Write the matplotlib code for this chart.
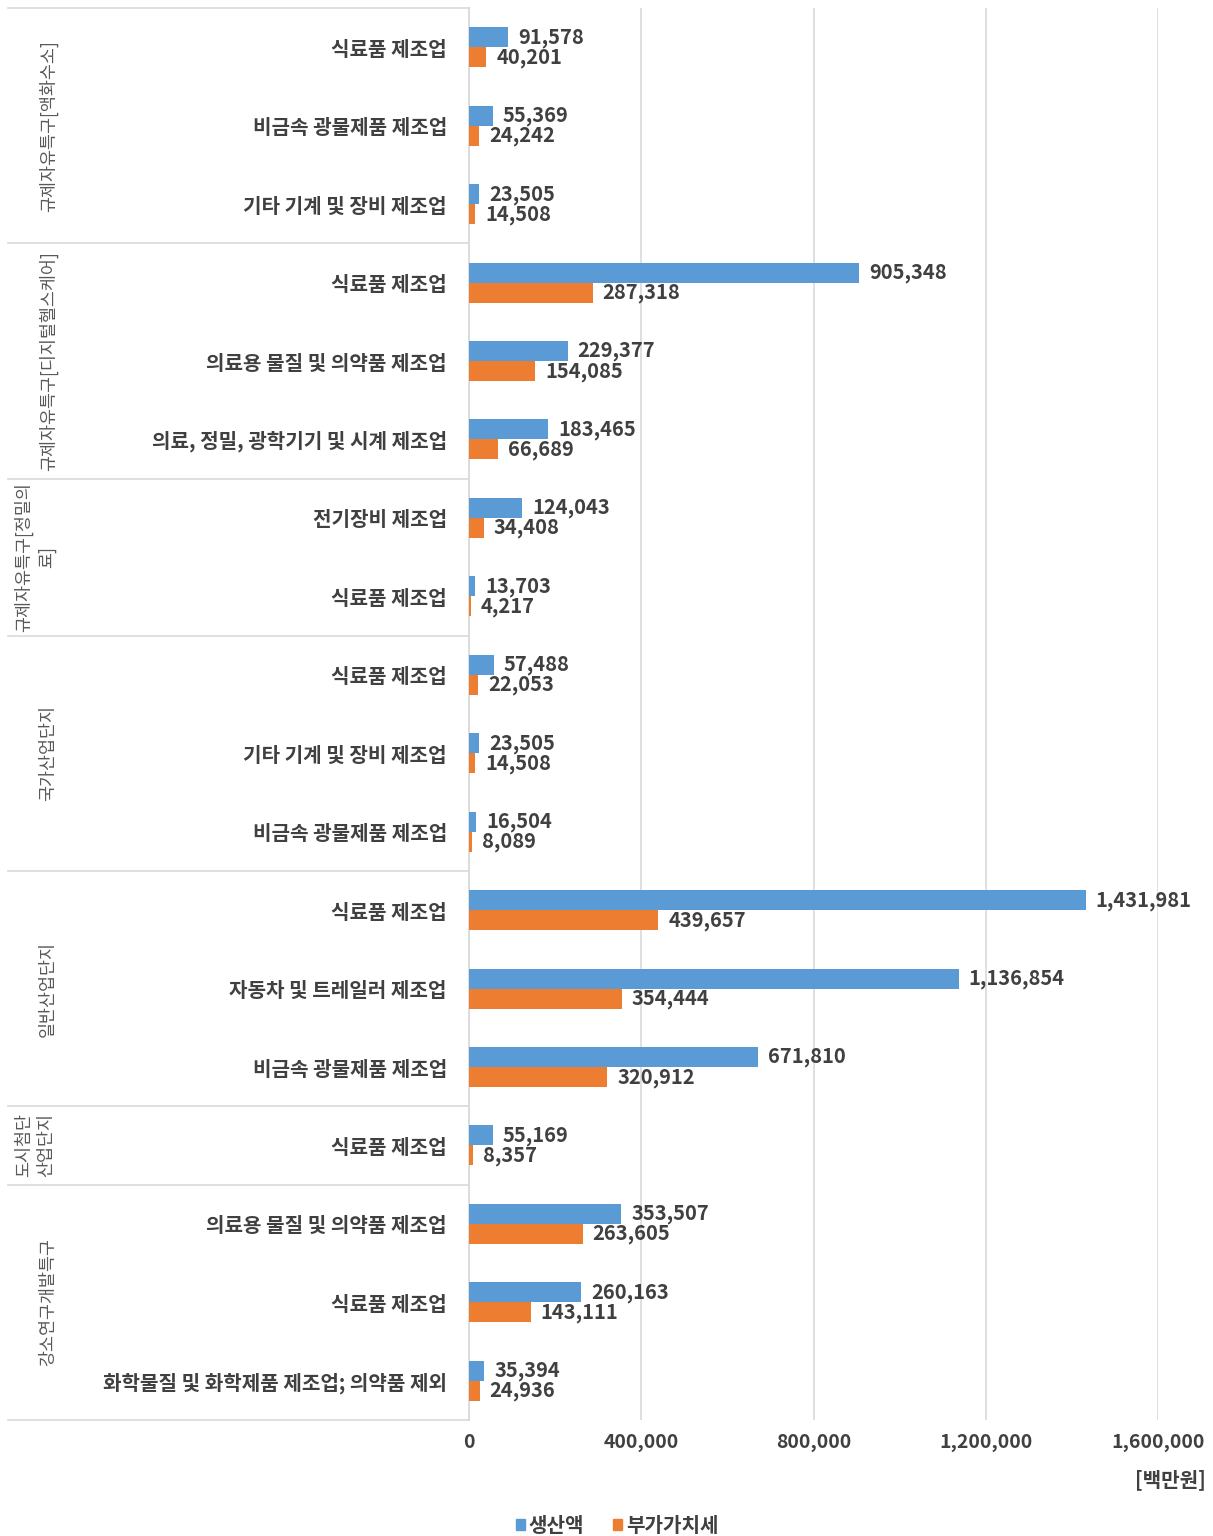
import numpy as np
import matplotlib.pyplot as plt
from matplotlib.lines import Line2D
from matplotlib.patches import Patch
import matplotlib.transforms as mtransforms

plt.rcParams['font.family'] = ['Noto Sans CJK KR', 'DejaVu Sans']

# 그룹(지구) 이름과 각 그룹의 업종 수
groups = ['규제자유특구[액화수소]', '규제자유특구[디지털헬스케어]', '규제자유특구[정밀의\n료]',
          '국가산업단지', '일반산업단지', '도시첨단\n산업단지', '강소연구개발특구']
group_sizes = [3, 3, 2, 3, 3, 1, 3]

industries = ['식료품 제조업', '비금속 광물제품 제조업', '기타 기계 및 장비 제조업',
              '식료품 제조업', '의료용 물질 및 의약품 제조업', '의료, 정밀, 광학기기 및 시계 제조업',
              '전기장비 제조업', '식료품 제조업',
              '식료품 제조업', '기타 기계 및 장비 제조업', '비금속 광물제품 제조업',
              '식료품 제조업', '자동차 및 트레일러 제조업', '비금속 광물제품 제조업',
              '식료품 제조업',
              '의료용 물질 및 의약품 제조업', '식료품 제조업', '화학물질 및 화학제품 제조업; 의약품 제외']

production = [91578, 55369, 23505,
              905348, 229377, 183465,
              124043, 13703,
              57488, 23505, 16504,
              1431981, 1136854, 671810,
              55169,
              353507, 260163, 35394]
value_added = [40201, 24242, 14508,
               287318, 154085, 66689,
               34408, 4217,
               22053, 14508, 8089,
               439657, 354444, 320912,
               8357,
               263605, 143111, 24936]

xticks = [0, 400000, 800000, 1200000, 1600000]

blue = '#5B9BD5'
orange = '#ED7D31'
txt = '#404040'

fig = plt.figure(figsize=(12.13, 15.36), dpi=100)
ax = fig.add_axes([469 / 1213, 1 - 1420 / 1536, 689 / 1213, (1420 - 8) / 1536])

y = np.arange(len(industries))
h = 0.255
ax.barh(y - h / 2, production, height=h, color=blue, zorder=3)
ax.barh(y + h / 2, value_added, height=h, color=orange, zorder=3)

# 막대 끝에 값 표시
pad = 10 * 1600000 / 689
for i in range(len(industries)):
    ax.text(production[i] + pad, y[i] - h / 2, f'{production[i]:,}', va='center', ha='left',
            fontsize=14.5, fontweight='bold', color=txt)
    ax.text(value_added[i] + pad, y[i] + h / 2, f'{value_added[i]:,}', va='center', ha='left',
            fontsize=14.5, fontweight='bold', color=txt)

ax.set_xlim(0, 1600000)
ax.set_ylim(len(industries) - 0.5, -0.5)
ax.set_xticks(xticks)
ax.set_xticklabels([f'{v:,}' for v in xticks], fontsize=14, fontweight='bold', color=txt)
ax.set_yticks(y)
ax.set_yticklabels(industries, fontsize=14.5, fontweight='bold', color=txt)
ax.tick_params(axis='both', length=0)
ax.tick_params(axis='y', pad=16)
ax.tick_params(axis='x', pad=9)
ax.xaxis.grid(True, color='#d9d9d9', linewidth=1.2, zorder=0)
for s in ['top', 'right', 'bottom']:
    ax.spines[s].set_visible(False)
ax.spines['left'].set_color('#d9d9d9')
ax.spines['left'].set_linewidth(1.2)

# 그룹 구분선과 그룹 이름
trans = mtransforms.blended_transform_factory(ax.transAxes, ax.transData)
left = -(469 - 8) / 689
bounds = np.concatenate([[0], np.cumsum(group_sizes)]) - 0.5
for b in bounds:
    ax.add_line(Line2D([left, 0], [b, b], transform=trans, color='#d9d9d9',
                       linewidth=1.2, clip_on=False))
for g, lo, hi in zip(groups, bounds[:-1], bounds[1:]):
    xg = (48 - 469) / 689 if '\n' not in g else (35 - 469) / 689
    ax.text(xg, (lo + hi) / 2, g, transform=trans, rotation=90, ha='center', va='center',
            multialignment='center', fontsize=12.5, color='#595959', linespacing=1.3)

fig.text(1206 / 1213, 1 - 1480 / 1536, '[백만원]', ha='right', va='center',
         fontsize=14.5, fontweight='bold', color=txt)

handles = [Patch(color=blue), Patch(color=orange)]
fig.legend(handles, ['생산액', '부가가치세'], loc='center', ncol=2,
           bbox_to_anchor=(617 / 1213, 1 - 1525 / 1536), frameon=False,
           handlelength=0.45, handleheight=0.45, handletextpad=0.2, columnspacing=1.4,
           prop={'size': 14.5, 'weight': 'bold'}, labelcolor=txt)

fig.savefig('out.png', dpi=100)
